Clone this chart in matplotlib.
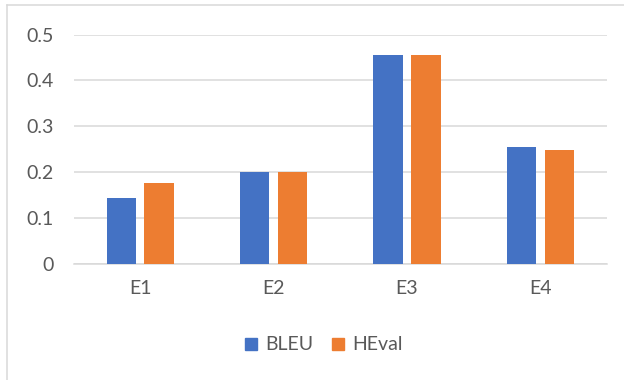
import matplotlib
matplotlib.use("Agg")
import matplotlib.pyplot as plt
import numpy as np
from matplotlib.lines import Line2D

categories = ["E1", "E2", "E3", "E4"]
bleu = [0.144, 0.200, 0.455, 0.254]
heval = [0.176, 0.200, 0.455, 0.248]
yticks = [0, 0.1, 0.2, 0.3, 0.4, 0.5]
ytick_labels = ["0", "0.1", "0.2", "0.3", "0.4", "0.5"]

BLUE = "#4472C4"
ORANGE = "#ED7D31"
TXT = "#595959"
GRID = "#D9D9D9"

plt.rcParams["font.family"] = ["Lato", "DejaVu Sans"]

fig = plt.figure(figsize=(6.24, 3.8), dpi=100)
ax = fig.add_axes([73.5 / 624, 1 - 264 / 380, (607 - 73.5) / 624, (264 - 34.5) / 380])

x = np.arange(len(categories))
w = 0.22
off = 0.142
ax.bar(x - off, bleu, w, color=BLUE, zorder=3, label="BLEU")
ax.bar(x + off, heval, w, color=ORANGE, zorder=3, label="HEval")

ax.set_xlim(-0.5, len(categories) - 0.5)
ax.set_ylim(0, 0.5)
ax.set_yticks(yticks)
ax.set_yticklabels(ytick_labels)
ax.set_xticks(x)
ax.set_xticklabels(categories)
ax.grid(axis="y", color=GRID, linewidth=1.1, zorder=0)
for s in ["top", "right", "left"]:
    ax.spines[s].set_visible(False)
ax.spines["bottom"].set_color(GRID)
ax.spines["bottom"].set_linewidth(1.1)
ax.tick_params(axis="both", length=0, colors=TXT, labelsize=14)
ax.tick_params(axis="y", pad=14.5)
ax.tick_params(axis="x", pad=11.5)

handles = [Line2D([], [], marker="s", linestyle="none", markersize=8, color=BLUE),
           Line2D([], [], marker="s", linestyle="none", markersize=8, color=ORANGE)]
leg = fig.legend(handles, ["BLEU", "HEval"], loc="center", bbox_to_anchor=(323 / 624, 1 - 345 / 380),
                 ncol=2, frameon=False, fontsize=14, handletextpad=0.3, columnspacing=0.9,
                 handlelength=0.8)
for t in leg.get_texts():
    t.set_color(TXT)

# chart border (left & top visible)
fig.add_artist(Line2D([6.5 / 624, 6.5 / 624], [0, 1 - 4.5 / 380], color=GRID, linewidth=1.1))
fig.add_artist(Line2D([6.5 / 624, 1], [1 - 4.5 / 380, 1 - 4.5 / 380], color=GRID, linewidth=1.1))

fig.savefig("out.png", dpi=100)
